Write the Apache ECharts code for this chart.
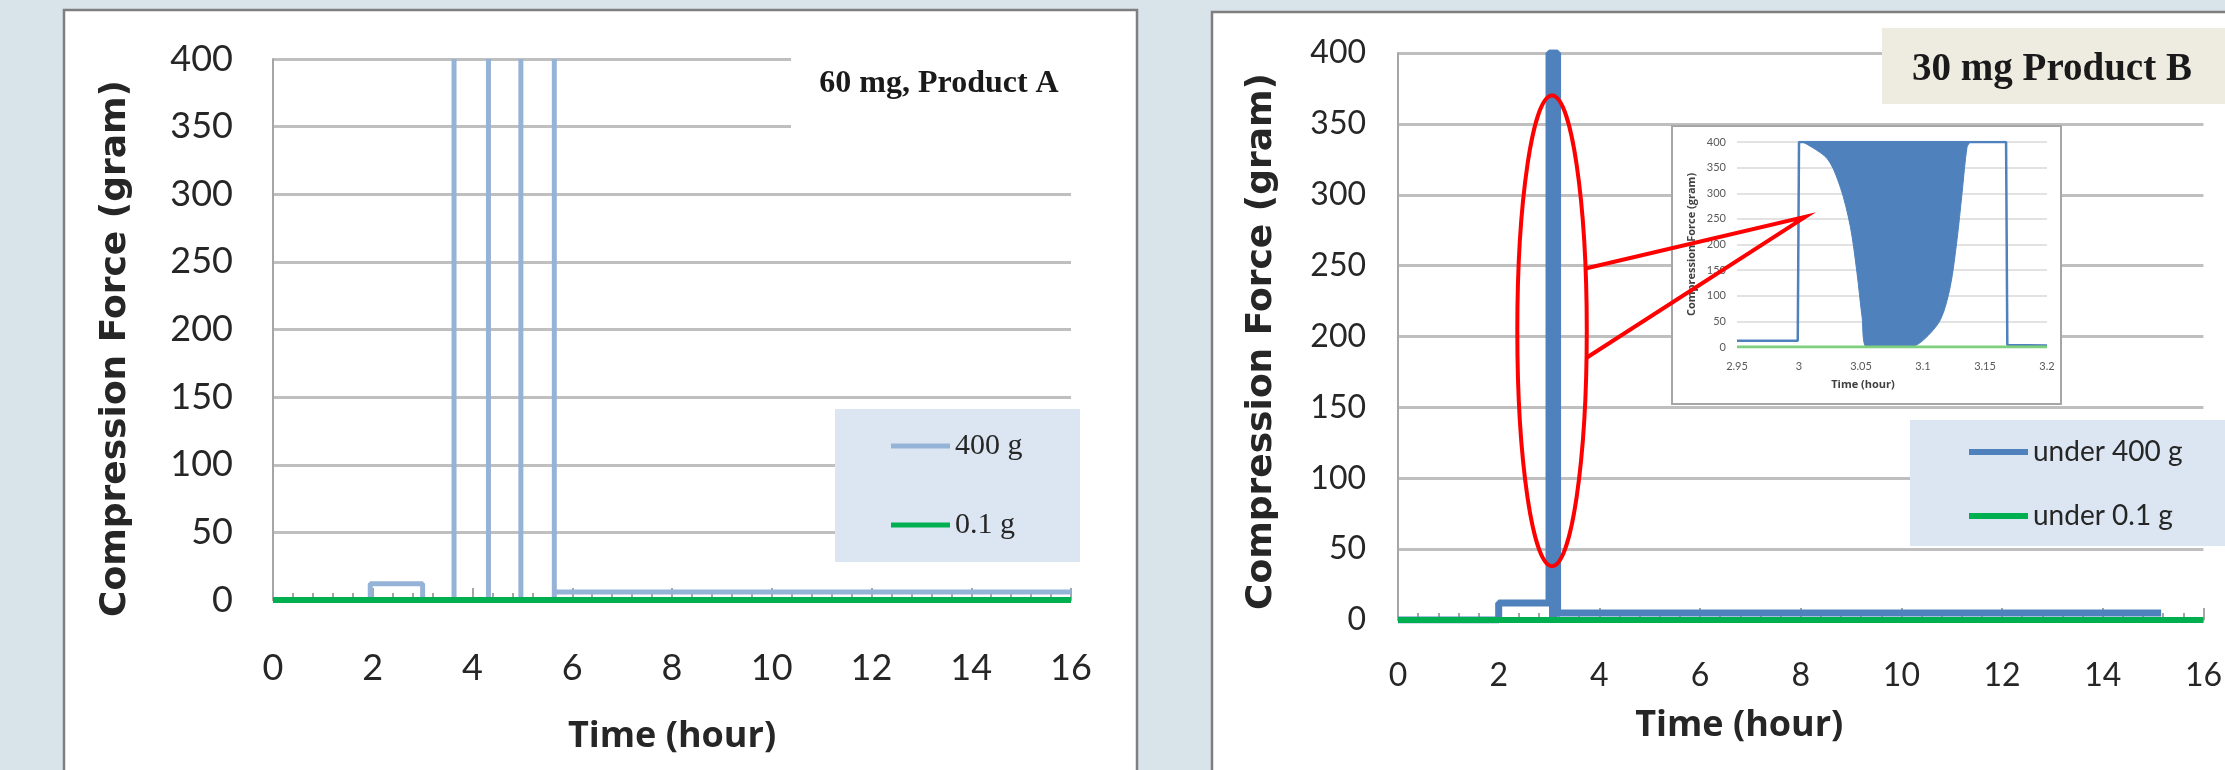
<!doctype html>
<html>
<head>
    <meta charset="UTF-8">
    <title>Compression force, Product A / Product B</title>
    <script src="https://cdn.jsdelivr.net/npm/echarts@6/dist/echarts.min.js"></script>
</head>
<body style="margin:0">
<div id="main" style="width:2225px;height:770px;"></div>
<script type="text/javascript">
    // 60 mg, Product A
    var timeA = [0, 1.95, 1.95, 3.0, 3.0, 3.63, 3.63, 3.63, 4.32, 4.32, 4.32, 4.97, 4.97, 4.97, 5.64, 5.64, 5.64, 16];
    var force400A = [0, 0, 12, 12, 0, 0, 400, 0, 0, 400, 0, 0, 400, 0, 0, 400, 6, 6];
    var timeLowA = [0, 16];
    var force01A = [0, 0];

    // 30 mg Product B
    var timeB = [0, 2.0, 2.0, 3.0, 3.0, 3.17, 3.17, 15.16];
    var force400B = [0, 0, 12, 12, 400, 400, 5, 5];
    var timeSpikeB = [3.0, 3.17];   // 快速振荡段, 主图里是实心
    var forceSpikeB = [400, 400];
    var timeLowB = [0, 16];
    var force01B = [0, 0];

    // inset, 2.95 - 3.2 hour
    var timeZoom = [2.95, 2.999, 3.0, 3.167, 3.168, 3.2];
    var forceZoom = [12, 12, 400, 400, 4, 3];
    var timeEnv = [3.003, 3.0226, 3.0333, 3.0414, 3.0468, 3.0508, 3.0548, 3.0898, 3.1005, 3.114, 3.122, 3.1274, 3.1315, 3.1355, 3.138];
    var forceEnv = [400, 368, 312, 235, 144, 60, 0, 0, 14, 53, 118, 209, 300, 390, 400];
    var timeLowZoom = [2.95, 3.2];
    var forceLowZoom = [0, 0];

    var legendA = ['400 g', '0.1 g'];
    var legendB = ['under 400 g', 'under 0.1 g'];

    function pairs(xs, ys) {
        var out = [];
        for (var i = 0; i < xs.length; i++) out.push([xs[i], ys[i]]);
        return out;
    }

    var gray = '#A6A6A6';
    var txt = '#262626';

    function mainX(grid, fs, margin, gap, pad) {
        return {
            gridIndex: grid, type: 'value', min: 0, max: 16, interval: 2, z: 2,
            axisLine: {show: true, lineStyle: {color: gray, width: 2}},
            axisTick: {show: true, inside: true, length: 12, lineStyle: {color: gray, width: 2}},
            minorTick: {show: true, splitNumber: 5, length: 7, lineStyle: {color: gray, width: 2}},
            splitLine: {show: false},
            axisLabel: {fontFamily: 'Lato', fontSize: fs, color: txt, margin: margin},
            name: 'Time (hour)', nameLocation: 'middle', nameGap: gap,
            nameTextStyle: {fontFamily: 'Open Sans', fontWeight: 'bold', fontSize: 36, color: txt, padding: pad}
        };
    }
    function mainY(grid, fs, margin, gap, pad) {
        return {
            gridIndex: grid, type: 'value', min: 0, max: 400, interval: 50, z: 2,
            axisLine: {show: true, lineStyle: {color: gray, width: 2}},
            axisTick: {show: false},
            splitLine: {show: true, lineStyle: {color: '#BFBFBF', width: 3}},
            axisLabel: {fontFamily: 'Lato', fontSize: fs, color: txt, margin: margin},
            name: 'Compression Force (gram)', nameLocation: 'middle', nameGap: gap, nameRotate: 90,
            nameTextStyle: {fontFamily: 'DejaVu Sans', fontWeight: 'bold', fontSize: 36, color: txt, padding: pad}
        };
    }

    var myChart = echarts.init(document.getElementById('main'));
    var option = {
        backgroundColor: '#D9E3EA',
        animation: false,
        grid: [
            {left: 273, right: 1154, top: 59, bottom: 170},
            {left: 1398, right: -26, top: 53, bottom: 150},
            {left: 1737, right: 178, top: 142, bottom: 423}
        ],
        legend: [
            {
                data: legendA, orient: 'vertical', left: 891, top: 431, padding: 0,
                itemWidth: 59, itemHeight: 5, itemGap: 49, icon: 'rect', z: 6,
                textStyle: {fontFamily: 'Liberation Serif', fontSize: 30, lineHeight: 30, color: txt}
            },
            {
                data: legendB, orient: 'vertical', left: 1969, top: 437, padding: 0,
                itemWidth: 59, itemHeight: 6, itemGap: 34, icon: 'rect', z: 6,
                textStyle: {fontFamily: 'Lato', fontSize: 28, lineHeight: 30, color: txt}
            }
        ],
        xAxis: [
            mainX(0, 36, 50, 119, 0),
            mainX(1, 32, 40, 88, [0, 123, 0, 0]),
            {
                gridIndex: 2, type: 'value', min: 2.95, max: 3.2, interval: 0.05, z: 6,
                axisLine: {show: false}, axisTick: {show: false}, splitLine: {show: false},
                axisLabel: {
                    fontFamily: 'Lato', fontSize: 11, color: '#595959', margin: 14,
                    formatter: function (v) { return String(+v.toFixed(2)); }
                },
                name: 'Time (hour)', nameLocation: 'middle', nameGap: 32,
                nameTextStyle: {fontFamily: 'Open Sans', fontWeight: 'bold', fontSize: 11, color: '#404040', padding: [0, 58, 0, 0]}
            }
        ],
        yAxis: [
            mainY(0, 36, 40, 139, [0, 38, 0, 0]),
            mainY(1, 32, 32, 118, [0, 10, 0, 0]),
            {
                gridIndex: 2, type: 'value', min: 0, max: 400, interval: 50, z: 6,
                axisLine: {show: false}, axisTick: {show: false},
                splitLine: {show: true, lineStyle: {color: '#D9D9D9', width: 1.5}},
                axisLabel: {fontFamily: 'Lato', fontSize: 11, color: '#595959', margin: 11},
                name: 'Compression Force (gram)', nameLocation: 'middle', nameGap: 40, nameRotate: 90,
                nameTextStyle: {fontFamily: 'Open Sans', fontWeight: 'bold', fontSize: 11, color: '#404040'}
            }
        ],
        series: [
            {
                name: '400 g', type: 'line', xAxisIndex: 0, yAxisIndex: 0, z: 3,
                data: pairs(timeA, force400A), showSymbol: false, color: '#95B3D7',
                lineStyle: {width: 5, color: '#95B3D7'}
            },
            {
                name: '0.1 g', type: 'line', xAxisIndex: 0, yAxisIndex: 0, z: 3,
                data: pairs(timeLowA, force01A), showSymbol: false, color: '#00B050',
                lineStyle: {width: 6, color: '#00B050'}
            },
            {
                name: 'under 400 g', type: 'line', xAxisIndex: 1, yAxisIndex: 1, z: 3,
                data: pairs(timeB, force400B), showSymbol: false, color: '#4F81BD',
                lineStyle: {width: 7, color: '#4F81BD'}
            },
            {
                name: 'under 400 g, 3.0-3.17 h', type: 'line', xAxisIndex: 1, yAxisIndex: 1, z: 3,
                data: pairs(timeSpikeB, forceSpikeB), showSymbol: false, color: '#4F81BD',
                lineStyle: {width: 7, color: '#4F81BD'},
                areaStyle: {origin: 'start', color: '#4F81BD', opacity: 1}
            },
            {
                name: 'under 0.1 g', type: 'line', xAxisIndex: 1, yAxisIndex: 1, z: 3,
                data: pairs(timeLowB, force01B), showSymbol: false, color: '#00B050',
                lineStyle: {width: 6, color: '#00B050'}
            },
            {
                name: 'inset fill', type: 'line', xAxisIndex: 2, yAxisIndex: 2, z: 7,
                data: pairs(timeEnv, forceEnv), showSymbol: false, smooth: 0.3, color: '#4F81BD',
                lineStyle: {width: 1, color: '#4F81BD'},
                areaStyle: {origin: 'end', color: '#4F81BD', opacity: 1}
            },
            {
                name: 'inset 400 g', type: 'line', xAxisIndex: 2, yAxisIndex: 2, z: 7,
                data: pairs(timeZoom, forceZoom), showSymbol: false, color: '#4F81BD',
                lineStyle: {width: 2.5, color: '#4F81BD'}
            },
            {
                name: 'inset 0.1 g', type: 'line', xAxisIndex: 2, yAxisIndex: 2, z: 7,
                data: pairs(timeLowZoom, forceLowZoom), showSymbol: false, color: '#7ED07E',
                lineStyle: {width: 3, color: '#7ED07E'}
            }
        ]
    };
    myChart.setOption(option);

    // 红色椭圆和引线, 用数据坐标换算
    var ring = {x: 3.06, y: 204, top: 370, halfWidth: 0.69};
    var calloutFrom = [248, 185];
    var calloutTo = [3.005, 254];

    function toPx(grid, p) {
        return myChart.convertToPixel({xAxisIndex: grid, yAxisIndex: grid}, p);
    }
    var c = toPx(1, [ring.x, ring.y]);
    var rx = toPx(1, [ring.x + ring.halfWidth, ring.y])[0] - c[0];
    var ry = c[1] - toPx(1, [ring.x, ring.top])[1];
    function onRing(v) {
        var py = toPx(1, [ring.x, v])[1];
        var dy = (py - c[1]) / ry;
        return [c[0] + rx * Math.sqrt(1 - dy * dy), py];
    }
    var apex = toPx(2, calloutTo);

    myChart.setOption({
        graphic: [
            {type: 'rect', z: -1, shape: {x: 64, y: 10, width: 1073, height: 800},
                style: {fill: '#fff', stroke: '#7F7F7F', lineWidth: 2.5}},
            {type: 'rect', z: -1, shape: {x: 1212, y: 12, width: 1100, height: 800},
                style: {fill: '#fff', stroke: '#7F7F7F', lineWidth: 2.5}},
            {type: 'rect', z: 4, shape: {x: 791, y: 38, width: 290, height: 120}, style: {fill: '#fff'}},
            {type: 'text', z: 5, style: {x: 939, y: 84, text: '60 mg, Product A', align: 'center', verticalAlign: 'middle',
                    font: 'bold 32px "Liberation Serif"', fill: '#1a1a1a'}},
            {type: 'rect', z: 4, shape: {x: 1882, y: 28, width: 360, height: 76}, style: {fill: '#EEECE1'}},
            {type: 'text', z: 5, style: {x: 2052, y: 70, text: '30 mg Product B', align: 'center', verticalAlign: 'middle',
                    font: 'bold 39px "Liberation Serif"', fill: '#1a1a1a'}},
            {type: 'rect', z: 4, shape: {x: 835, y: 409, width: 245, height: 153}, style: {fill: '#DCE6F2'}},
            {type: 'rect', z: 4, shape: {x: 1910, y: 420, width: 330, height: 126}, style: {fill: '#DCE6F2'}},
            {type: 'rect', z: 5, shape: {x: 1672, y: 126, width: 389, height: 278},
                style: {fill: '#fff', stroke: gray, lineWidth: 2}},
            {type: 'ellipse', z: 10, shape: {cx: c[0], cy: c[1], rx: rx, ry: ry},
                style: {fill: null, stroke: '#FF0000', lineWidth: 4}},
            {type: 'polyline', z: 10, shape: {points: [onRing(calloutFrom[0]), apex, onRing(calloutFrom[1])]},
                style: {fill: null, stroke: '#FF0000', lineWidth: 4}}
        ]
    });
</script>
</body>
</html>
